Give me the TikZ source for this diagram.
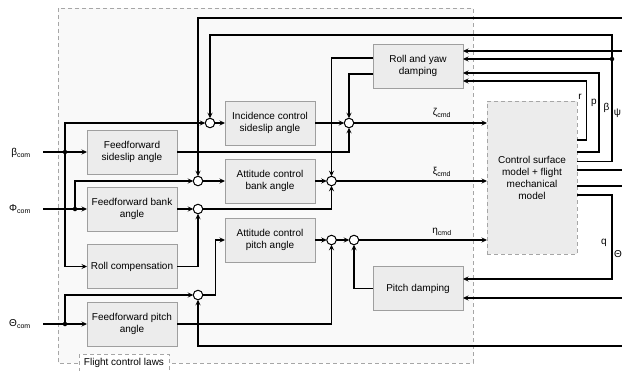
\documentclass[tikz,border=0pt]{standalone}
\usepackage{fontspec}
\setmainfont{Liberation Sans}
\usetikzlibrary{arrows.meta}
\begin{document}
\begin{tikzpicture}[x=1pt,y=-1pt,
  font=\fontsize{10}{12}\selectfont,
  blk/.style={draw=gray!75, fill=gray!15, line width=0.8pt, minimum width=90pt, minimum height=44pt, align=center, inner sep=1pt, outer sep=0pt},
  sumc/.style={circle, draw=black, fill=white, line width=1pt, minimum size=9.5pt, inner sep=0pt, outer sep=0pt},
  dotc/.style={circle, fill=black, minimum size=4.5pt, inner sep=0pt},
  ln/.style={line width=1.15pt, draw=black},
  arr/.style={ln, -{Stealth[length=5.5pt,width=5pt,inset=2pt]}},
  dsh/.style={dash pattern=on 4pt off 3pt, draw=gray!70, line width=0.8pt},
  lbl/.style={inner sep=0pt}
]
\useasboundingbox (0,0) rectangle (622,370);
\clip (0,0) rectangle (622,370);
% outer box
\draw[dsh, fill=gray!5] (58,8) rectangle (473,363);
\draw[dsh, fill=white] (79,354) rectangle (169,380);
\node[lbl] (fcl) at (124,362.5) {Flight control laws};

% blocks
\node[blk] (ffs) at (132,152) {Feedforward\\sideslip angle};
\node[blk] (ics) at (270,123) {Incidence control\\sideslip angle};
\node[blk] (acb) at (270,181) {Attitude control\\bank angle};
\node[blk] (ffb) at (132,209) {Feedforward bank\\angle};
\node[blk] (rc)  at (132,266.5) {Roll compensation};
\node[blk] (acp) at (270,240) {Attitude control\\pitch angle};
\node[blk] (ffp) at (132,324) {Feedforward pitch\\angle};
\node[blk] (ryd) at (418,66) {Roll and yaw\\damping};
\node[blk] (pd)  at (418,288.5) {Pitch damping};
\node[blk, dsh, fill=gray!15, minimum height=153pt] (cs) at (532,177.5) {Control surface\\model + flight\\mechanical\\model};

% summing points
\node[sumc] (s1) at (210,123) {};
\node[sumc] (s2) at (198,181) {};
\node[sumc] (s3) at (198,209) {};
\node[sumc] (s4) at (198,295) {};
\node[sumc] (s5) at (349,123) {};
\node[sumc] (s6) at (331.5,181) {};
\node[sumc] (s7) at (331.5,240) {};
\node[sumc] (s8) at (354,240) {};

% inputs
\node[lbl] (bl) at (21,153) {β\textsubscript{com}};
\node[lbl] (pl) at (20,209) {Φ\textsubscript{com}};
\node[lbl] (tl) at (20,324) {Θ\textsubscript{com}};
\coordinate (bin) at (43,152);
\coordinate (pin) at (43,209);
\coordinate (tin) at (43,324);
\coordinate (jb) at (65,152);
\coordinate (jp) at (75,209);
\coordinate (jt) at (65,324);

\draw[arr] (bin) -- (ffs.west);
\draw[arr] (jb) |- (s1.west);
\draw[arr] (jb) |- (rc.west);
\draw[arr] (pin) -- (ffb.west);
\draw[arr] (jp) |- (s2.west);
\draw[arr] (tin) -- (ffp.west);
\draw[arr] (jt) |- (s4.west);
\node[dotc] at (jb) {};
\node[dotc] at (jp) {};
\node[dotc] at (jt) {};

% internal
\draw[arr] (s1) -- (ics);
\draw[arr] (s2) -- (acb);
\draw[arr] (ffb) -- (s3);
\draw[arr] (rc.east) -| (s3.south);
\draw[arr] (s3.east) -| (s6.south);
\draw[arr] (ffs.east) -| (s5.south);
\draw[arr] (ics) -- (s5);
\draw[arr] (acb) -- (s6);
\draw[arr] (s4.east) -- ++(13,0) |- (acp.west);
\draw[arr] (acp) -- (s7);
\draw[arr] (s7) -- (s8);
\draw[arr] (ffp.east) -| (s7.south);
\draw[arr] (pd.west) -| (s8.south);
\draw[arr] ([yshift=8pt]ryd.west) -| (s6.north);
\draw[arr] ([yshift=-8pt]ryd.west) -| (s5.north);

% commands to plant
\draw[arr] (s5) -- (cs.west |- s5);
\draw[arr] (s6) -- (cs.west |- s6);
\draw[arr] (s8) -- (cs.west |- s8);
\node[lbl] (zl) at (442,113) {ζ\textsubscript{cmd}};
\node[lbl] (xl) at (442,172) {ξ\textsubscript{cmd}};
\node[lbl] (el) at (442,232) {η\textsubscript{cmd}};

% feedback
\coordinate (rS) at (577,140);
\coordinate (pS) at (577,152);
\coordinate (psiS) at (577,161.5);
\coordinate (o1) at (577,170);
\coordinate (o2) at (577,186);
\coordinate (qS) at (577,195);
\coordinate (e1) at (622,170);
\coordinate (e2) at (622,186);
\coordinate (rT) at (463,81);
\coordinate (pT) at (463,73);
\coordinate (psiT) at (463,59);
\coordinate (xT) at (463,51);
\coordinate (xS) at (622,51);
\coordinate (jpsi) at (612,59);
\coordinate (phiS) at (622,18);
\coordinate (qT) at (463,279);
\coordinate (thT) at (463,298);
\coordinate (thS) at (622,298);
\coordinate (th2S) at (622,346);

\draw[arr] (rS) -- ++(9.5,0) |- (rT);
\draw[arr] (pS) -- ++(22,0) |- (pT);
\draw[arr] (psiS) -| (612,35) -| (s1.north);
\draw[arr] (jpsi) -- (psiT);
\node[dotc] at (jpsi) {};
\draw[arr] (xS) -- (xT);
\draw[arr] (phiS) -| (s2.north);
\draw[ln] (o1) -- (e1);
\draw[ln] (o2) -- (e2);
\draw[arr] (qS) -- ++(35,0) |- (qT);
\draw[arr] (thS) -- (thT);
\draw[arr] (th2S) -| (s4.south);

\node[lbl] (rl) at (580,97) {r};
\node[lbl] (plb) at (594,103) {p};
\node[lbl] (btl) at (606.5,108) {β};
\node[lbl] (psl) at (617.5,113) {ψ};
\node[lbl] (ql) at (604,243) {q};
\node[lbl] (thl) at (618,254) {Θ};
\end{tikzpicture}
\end{document}
